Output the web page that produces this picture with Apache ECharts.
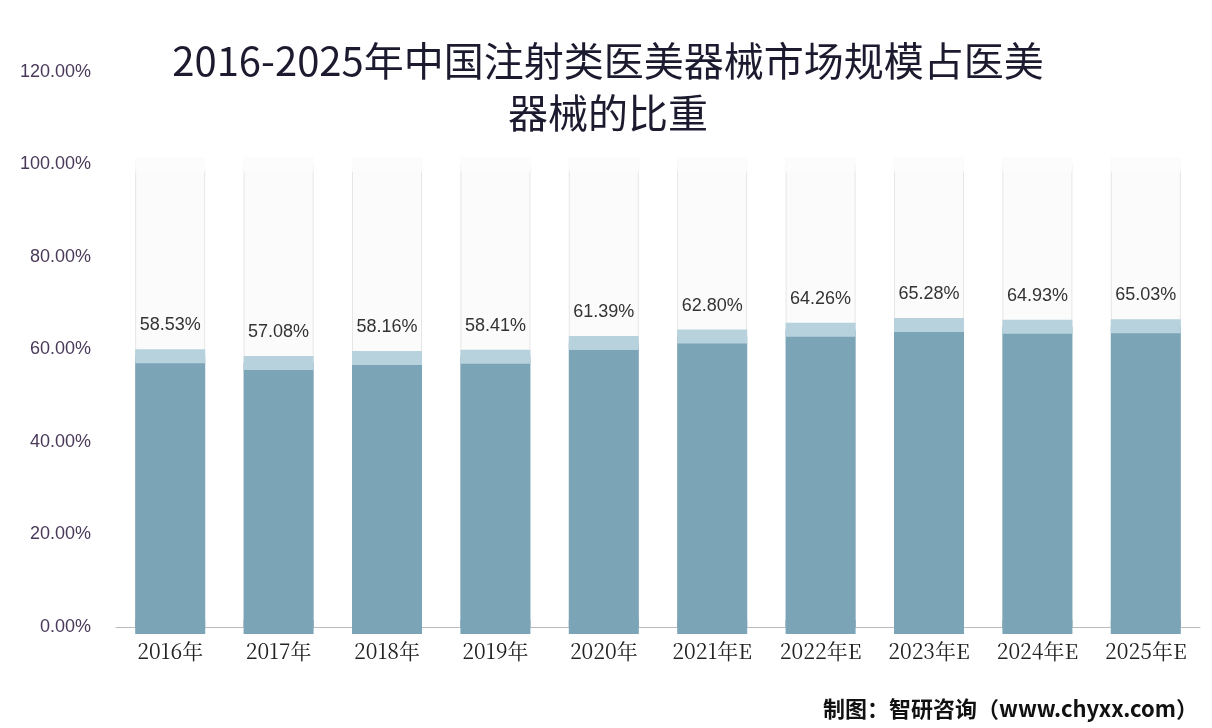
<!DOCTYPE html>
<html><head><meta charset="utf-8">
<script src="https://cdn.jsdelivr.net/npm/echarts@6/dist/echarts.min.js"></script>
<style>html,body{margin:0;background:#fff}#c{width:1212px;height:728px}</style></head>
<body><div id="c"></div>
<script>
const categories=['2016年','2017年','2018年','2019年','2020年','2021年E','2022年E','2023年E','2024年E','2025年E'];
const values=[58.53,57.08,58.16,58.41,61.39,62.80,64.26,65.28,64.93,65.03];
const labels=['58.53%','57.08%','58.16%','58.41%','61.39%','62.80%','64.26%','65.28%','64.93%','65.03%'];
const full=categories.map(()=>100);
const ch=echarts.init(document.getElementById('c'));
ch.setOption({
 animation:false,
 title:{text:'2016-2025年中国注射类医美器械市场规模占医美\n器械的比重',left:603,textAlign:'center',top:30,
  textStyle:{fontSize:40,fontWeight:'normal',color:'#1c1a2e',lineHeight:52,fontFamily:'Noto Sans CJK SC'}},
 graphic:[{type:'text',right:14,bottom:8,style:{text:'制图：智研咨询（www.chyxx.com）',fontSize:22,fontWeight:'bold',fill:'#111',fontFamily:'Noto Sans CJK SC'}}],
 grid:{left:116,right:12,top:72,bottom:101},
 xAxis:{type:'category',data:categories,axisTick:{show:false},axisLine:{lineStyle:{color:'#bbb'}},
  axisLabel:{fontSize:21,color:'#222',fontFamily:'Noto Serif CJK SC, serif',margin:14}},
 yAxis:{type:'value',min:0,max:120,interval:20,splitLine:{show:false},
  axisLabel:{formatter:v=>v.toFixed(2)+'%',fontSize:18,color:'#4a3a5a',margin:25}},
 series:[
  {type:'bar',data:full,barWidth:70,barGap:'-100%',z:1,itemStyle:{color:'rgba(245,245,245,0.4)',borderColor:'#e6e6e6',borderWidth:1},silent:true},
  {type:'pictorialBar',data:full,symbol:'ellipse',symbolSize:[70,14],symbolPosition:'end',symbolOffset:[0,'-50%'],z:2,itemStyle:{color:'rgba(252,252,252,1)',borderColor:'#e6e6e6',borderWidth:1}},
  {type:'bar',data:values,barWidth:70,z:3,itemStyle:{color:'#7ba5b7'},
   label:{show:true,position:'top',distance:22,fontSize:18,color:'#333',formatter:p=>labels[p.dataIndex]}},
  {type:'pictorialBar',data:values,symbol:'ellipse',symbolSize:[70,14],symbolPosition:'end',symbolOffset:[0,'-50%'],z:4,itemStyle:{color:'#b7d2dd'}},
  {type:'pictorialBar',data:values.map(()=>0),symbol:'ellipse',symbolSize:[70,14],symbolOffset:[0,'50%'],z:4,itemStyle:{color:'#7ba5b7'}}
 ]
});
</script></body></html>
